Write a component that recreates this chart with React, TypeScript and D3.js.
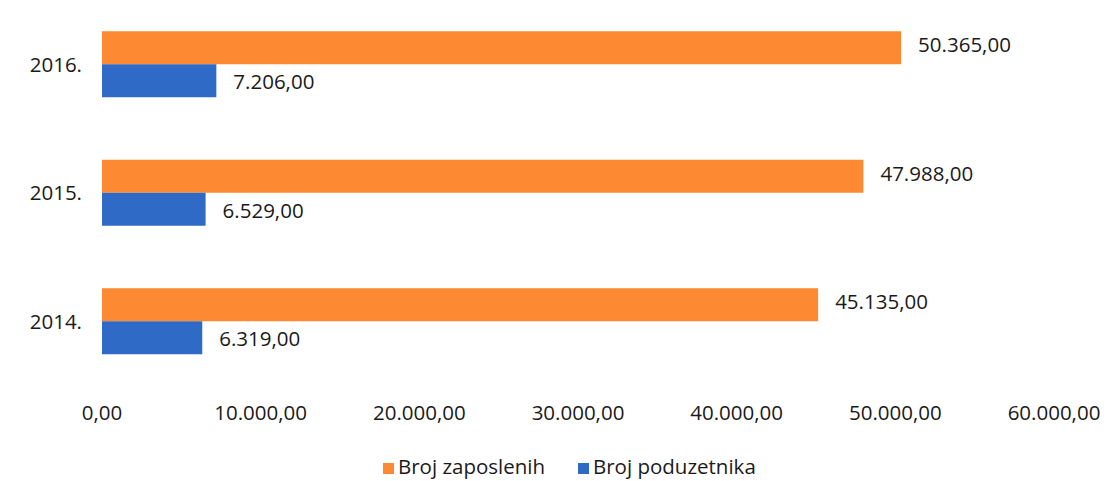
import React, { useEffect, useRef } from 'react';
import * as d3 from 'd3';

const years = ['2016.', '2015.', '2014.'];
const seriesNames = ['Broj zaposlenih', 'Broj poduzetnika'];
const zaposleni = [50365, 47988, 45135];
const poduzetnici = [7206, 6529, 6319];
const xTicks = [0, 10000, 20000, 30000, 40000, 50000, 60000];
const colors = ['#fd8a33', '#2f6bc6'];

const hr = d3.formatLocale({ decimal: ',', thousands: '.', grouping: [3], currency: ['', ' kn'] });
const fmt = hr.format(',.2f');

const App: React.FC = () => {
  const svgRef = useRef<SVGSVGElement>(null);

  useEffect(() => {
    if (!svgRef.current) return;
    const width = 1119;
    const height = 481;
    const svg = d3.select(svgRef.current);
    svg.selectAll('*').remove();
    svg.attr('width', width).attr('height', height);

    const font = "'Open Sans', sans-serif";
    const textColor = '#1a1a1a';
    const fs = '20.5px';

    const x = d3.scaleLinear().domain([0, 60000]).range([102, 1054]);
    const y = d3.scaleBand().domain(years).range([0, 385.5]).padding(0);
    const step = y.bandwidth();
    const inner = d3.scaleBand().domain(seriesNames).range([step / 2 - 33, step / 2 + 33]).padding(0);

    const rows = years.map((yr, i) => ({ yr, values: [zaposleni[i], poduzetnici[i]] }));

    const g = svg.append('g');

    // year labels
    g.selectAll('.year')
      .data(rows)
      .enter().append('text')
      .attr('x', 82)
      .attr('y', d => (y(d.yr) || 0) + step / 2)
      .attr('dy', '0.36em')
      .attr('text-anchor', 'end')
      .style('font-family', font)
      .style('font-size', fs)
      .style('fill', textColor)
      .text(d => d.yr);

    // bars + labels
    rows.forEach(row => {
      const y0 = y(row.yr) || 0;
      row.values.forEach((v, si) => {
        const s = seriesNames[si];
        const by = y0 + (inner(s) || 0);
        g.append('rect')
          .attr('x', x(0))
          .attr('y', by)
          .attr('width', x(v) - x(0))
          .attr('height', inner.bandwidth())
          .attr('fill', colors[si]);
        g.append('text')
          .attr('x', x(v) + 17)
          .attr('y', by + inner.bandwidth() / 2 + (si === 0 ? -3 : 1))
          .attr('dy', '0.36em')
          .style('font-family', font)
          .style('font-size', fs)
          .style('fill', textColor)
          .text(fmt(v));
      });
    });

    // x tick labels
    g.selectAll('.tick')
      .data(xTicks)
      .enter().append('text')
      .attr('x', d => x(d))
      .attr('y', 413)
      .attr('dy', '0.36em')
      .attr('text-anchor', 'middle')
      .style('font-family', font)
      .style('font-size', fs)
      .style('fill', textColor)
      .text(d => fmt(d));

    // legend
    const legendX = [383, 578];
    seriesNames.forEach((s, i) => {
      g.append('rect')
        .attr('x', legendX[i])
        .attr('y', 463)
        .attr('width', 11)
        .attr('height', 11)
        .attr('fill', colors[i]);
      g.append('text')
        .attr('x', legendX[i] + 15)
        .attr('y', 474)
        .style('font-family', font)
        .style('font-size', fs)
        .style('fill', textColor)
        .text(s);
    });
  }, []);

  return (
    <div style={{ position: 'absolute', left: 0, top: 0, background: '#fff' }}>
      <svg ref={svgRef} style={{ display: 'block' }}></svg>
    </div>
  );
};

export default App;
